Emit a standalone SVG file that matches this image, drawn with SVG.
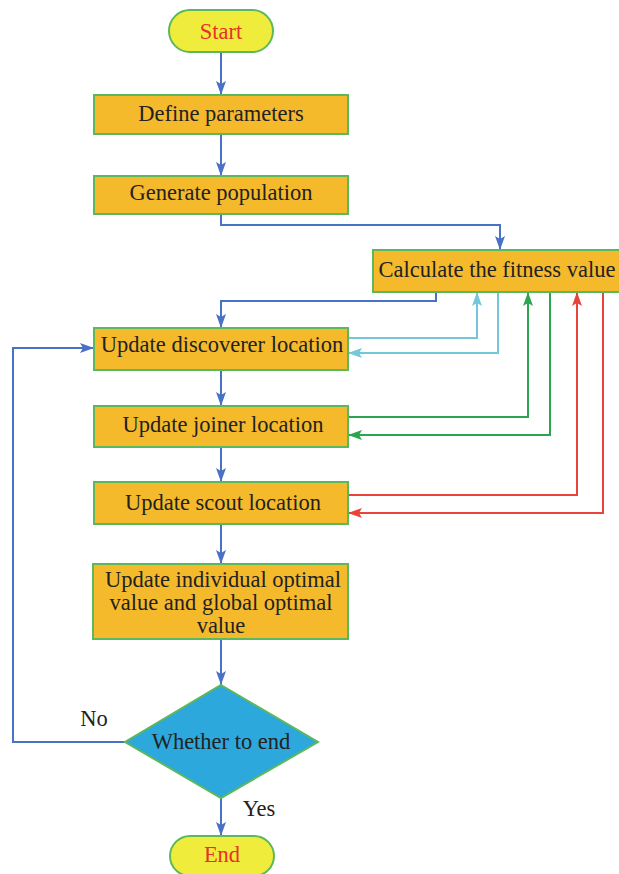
<svg xmlns="http://www.w3.org/2000/svg" width="619" height="874" viewBox="0 0 619 874">
<defs>
<style>
.box{fill:#F5BA2C;stroke:#5CB85C;stroke-width:2}
.term{fill:#F0EC3C;stroke:#5CB85C;stroke-width:2}
.dia{fill:#2CA8DC;stroke:#5CB85C;stroke-width:2}
.t{font-size:22.5px;fill:#222;text-anchor:middle}
.red{fill:#E8302A}
.c{fill:none;stroke-width:2}
.blue{stroke:#4A72C4}
.cyan{stroke:#72C8DA}
.green{stroke:#2BA64E}
.redl{stroke:#E8443A}
</style>
<marker id="ab" viewBox="0 0 14 10" refX="14" refY="5" markerWidth="14" markerHeight="10" orient="auto" markerUnits="userSpaceOnUse"><path d="M0,0L14,5L0,10L3,5z" fill="#4A72C4"/></marker>
<marker id="ac" viewBox="0 0 14 10" refX="14" refY="5" markerWidth="14" markerHeight="10" orient="auto" markerUnits="userSpaceOnUse"><path d="M0,0L14,5L0,10L3,5z" fill="#72C8DA"/></marker>
<marker id="ag" viewBox="0 0 14 10" refX="14" refY="5" markerWidth="14" markerHeight="10" orient="auto" markerUnits="userSpaceOnUse"><path d="M0,0L14,5L0,10L3,5z" fill="#2BA64E"/></marker>
<marker id="ar" viewBox="0 0 14 10" refX="14" refY="5" markerWidth="14" markerHeight="10" orient="auto" markerUnits="userSpaceOnUse"><path d="M0,0L14,5L0,10L3,5z" fill="#E8443A"/></marker>
</defs>
<rect width="619" height="874" fill="#fff"/>
<g id="connectors">
<path class="c blue" d="M221,52V95" marker-end="url(#ab)"/>
<path class="c blue" d="M221,134V176" marker-end="url(#ab)"/>
<path class="c blue" d="M221,214V225H500V250" marker-end="url(#ab)"/>
<path class="c blue" d="M436,292V301H221V328" marker-end="url(#ab)"/>
<path class="c blue" d="M221,370V406" marker-end="url(#ab)"/>
<path class="c blue" d="M221,447V482" marker-end="url(#ab)"/>
<path class="c blue" d="M221,524V564" marker-end="url(#ab)"/>
<path class="c blue" d="M221,639V685" marker-end="url(#ab)"/>
<path class="c blue" d="M221,798V836" marker-end="url(#ab)"/>
<path class="c blue" d="M125,742H13V348H94" marker-end="url(#ab)"/>
<path class="c cyan" d="M348,338H477V292" marker-end="url(#ac)"/>
<path class="c cyan" d="M498,292V353H348" marker-end="url(#ac)"/>
<path class="c green" d="M348,417H528V292" marker-end="url(#ag)"/>
<path class="c green" d="M550,292V435H348" marker-end="url(#ag)"/>
<path class="c redl" d="M348,495H577V292" marker-end="url(#ar)"/>
<path class="c redl" d="M603,292V513H348" marker-end="url(#ar)"/>
</g>
<g font-family="Liberation Serif, DejaVu Serif, serif">
<g id="start"><rect class="term" x="169" y="10" width="104" height="42" rx="21"/><text class="t red" x="221" y="39">Start</text></g>
<g id="define"><rect class="box" x="94" y="95" width="254" height="39"/><text class="t" x="221" y="121">Define parameters</text></g>
<g id="generate"><rect class="box" x="94" y="176" width="254" height="38"/><text class="t" x="221" y="200">Generate population</text></g>
<g id="fitness"><rect class="box" x="373" y="250" width="250" height="42"/><text class="t" x="497" y="277">Calculate the fitness value</text></g>
<g id="discoverer"><rect class="box" x="94" y="328" width="254" height="42"/><text class="t" x="222" y="352">Update discoverer location</text></g>
<g id="joiner"><rect class="box" x="94" y="406" width="254" height="41"/><text class="t" x="223" y="432">Update joiner location</text></g>
<g id="scout"><rect class="box" x="94" y="482" width="254" height="42"/><text class="t" x="223" y="510">Update scout location</text></g>
<g id="optimal"><rect class="box" x="93" y="564" width="255" height="75"/><text class="t" x="223" y="587">Update individual optimal</text><text class="t" x="221" y="610">value and global optimal</text><text class="t" x="221" y="633">value</text></g>
<g id="decision"><path class="dia" d="M221,685L318,742L221,798L125,742Z"/><text class="t" x="221" y="749">Whether to end</text></g>
<g id="end"><rect class="term" x="170" y="836" width="104" height="40" rx="20"/><text class="t red" x="222" y="862">End</text></g>
<text class="t" x="94" y="726">No</text>
<text class="t" x="259" y="816">Yes</text>
</g>
</svg>
